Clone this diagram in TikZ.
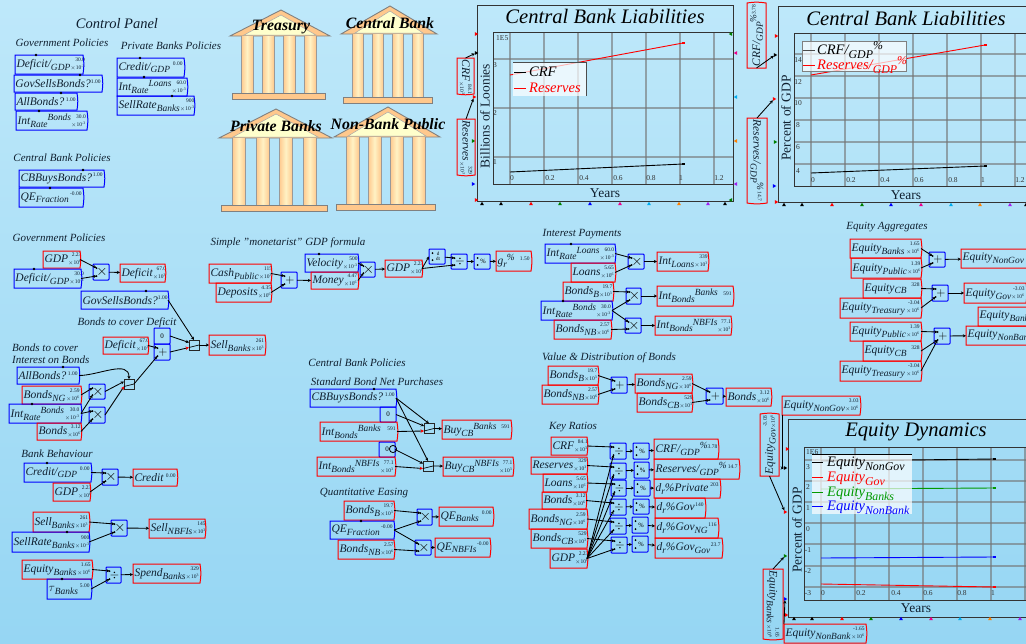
\documentclass[tikz,border=0pt]{standalone}
\usepackage{fontspec}
\setmainfont{Liberation Serif}
\usetikzlibrary{arrows.meta,shapes.geometric}
\makeatletter
\newcommand{\smf}[1]{\dimen0=\f@size pt \dimen0=#1\dimen0 \fontsize{\strip@pt\dimen0}{\strip@pt\dimen0}\selectfont}
\makeatother
\newcommand{\sbs}[1]{\raisebox{-.25em}{\smf{.82}#1}}
\newcommand{\sps}[1]{\raisebox{.33em}{\smf{.82}#1}}
\newcommand{\vstk}[2]{\raisebox{-2.2pt}{\fontsize{5.5}{6.6}\selectfont\upshape\shortstack[r]{#1\\[.5pt]#2}}}
\newcommand{\vone}[1]{\raisebox{4.5pt}{\fontsize{5.5}{6}\selectfont\upshape #1}}
\newcommand{\ee}[1]{$\times$10\textsuperscript{#1}}
\definecolor{txtc}{HTML}{102030}
\tikzset{
  x=1pt,y=-1pt,
  varb/.style={inner sep=0pt,outer sep=0pt,font=\fontsize{11.5}{12}\selectfont\itshape,text=txtc},
  flowv/.style={varb},
  parv/.style={varb},
  flowvline/.style={draw=red,line width=1pt},
  parvline/.style={draw=blue,line width=1pt},
  opb/.style={inner sep=0pt,outer sep=0pt,font=\fontsize{8}{8}\selectfont,text=black},
  opline/.style={draw=blue,line width=1pt,rounded corners=.8pt},
  swb/.style={draw=black!85,line width=.9pt,inner sep=0pt,outer sep=0pt,minimum width=10pt,minimum height=10pt},
  conn/.style={draw=black,line width=.85pt,-{Stealth[length=3.2pt,width=3.2pt]}},
  connr/.style={draw=black,line width=.85pt,-{Stealth[length=3.5pt,width=3.5pt,color=red]}},
  lab/.style={inner sep=0pt,font=\fontsize{11}{12}\selectfont\itshape,text=txtc},
  ttl/.style={inner sep=0pt,font=\fontsize{20.6}{22}\selectfont\itshape,text=black},
  axt/.style={inner sep=0pt,font=\fontsize{13.5}{14}\selectfont,text=txtc},
  tick/.style={inner sep=0pt,font=\fontsize{7.5}{8}\selectfont,text=black!80},
  legt/.style={inner sep=0pt,anchor=west,font=\fontsize{14.5}{15}\selectfont\itshape},
  bankt/.style={inner sep=0pt,font=\fontsize{15.8}{16}\selectfont\bfseries\itshape,text=black},
  mk/.style={regular polygon,regular polygon sides=3,inner sep=0pt,minimum size=4.5pt,outer sep=0pt},
  gridl/.style={draw=black!55,line width=1.1pt,opacity=.6},
  framel/.style={draw=black!80,line width=1pt},
}
\newcommand{\boxline}[2]{\draw[#1] (#2.south west) -- (#2.north west) -- (#2.north east) to[bend left=9] (#2.south east) -- cycle;}
% [style]{name}{x1}{y1}{x2}{y2}{text}{val}{exp}
\newcommand{\var}[9][flowv]{%
  \pgfmathsetlengthmacro{\vw}{#5-#3-3}%
  \node[#1,minimum width={(#5-#3)*1pt},minimum height={(#6-#4)*1pt}] (#2) at ({(#3+#5)/2},{(#4+#6)/2})
    {\hbox to \vw{#7\hfil\ifx&#9&\vone{#8}\else\vstk{#8}{\ee{#9}}\fi}};
  \boxline{#1line}{#2}}
% [rotation]{name}{x1}{y1}{x2}{y2}{text}{val}{exp}: x1..y2 are as seen on the page
\newcommand{\rvar}[9][0]{%
  \pgfmathsetlengthmacro{\vw}{#6-#4-3}%
  \node[flowv,rotate=#1,minimum width={(#6-#4)*1pt},minimum height={(#5-#3)*1pt}] (#2) at ({(#3+#5)/2},{(#4+#6)/2})
    {\hbox to \vw{#7\hfil\ifx&#9&\vone{#8}\else\vstk{#8}{\ee{#9}}\fi}};
  \boxline{flowvline}{#2}}
% {name}{x1}{y1}{x2}{y2}{symbol}
\newcommand{\op}[6]{%
  \node[opb,minimum width={(#4-#2)*1pt},minimum height={(#5-#3)*1pt}] (#1) at ({(#2+#4)/2},{(#3+#5)/2}) {\hspace{2pt}#6};
  \draw[opline] (#1.south west) rectangle (#1.north east);
  \coordinate (#1-a) at ({#2+3.5},{#3+4});
  \coordinate (#1-b) at ({#2+3.5},{#5-4});
  \fill ({#2+3.5},{#3+4}) circle (1pt) ({#2+3.5},{#5-4}) circle (1pt);}
% {name}{x1}{y1}{x2}{y2}
\newcommand{\konst}[5]{%
  \node[opb,minimum width={(#4-#2)*1pt},minimum height={(#5-#3)*1pt},font=\fontsize{7}{7}\selectfont] (#1) at ({(#2+#4)/2},{(#3+#5)/2}) {0};
  \draw[opline] (#1.south west) rectangle (#1.north east);}
\newcommand{\sw}[3]{%
  \node[swb] (#1) at (#2,#3) {};
  \coordinate (#1-t) at (#2,#3-5);
  \coordinate (#1-a) at (#2-5,#3-2.5);
  \coordinate (#1-b) at (#2-5,#3+2.5);
  \coordinate (#1-o) at (#2+5,#3);
  \draw[line width=.7pt] (#2-5,#3+2.5) -- (#2+5,#3);}
\newcommand{\MX}{\fontsize{15}{15}\selectfont$\times$}
\newcommand{\PL}{\fontsize{12}{12}\selectfont$+$}
\newcommand{\DV}{\fontsize{12}{12}\selectfont$\div$}
\newcommand{\PC}{\fontsize{6.5}{7}\selectfont\%}
\newcommand{\DDT}{\raisebox{-.5pt}{\fontsize{5}{5}\selectfont\shortstack{d\\[-1pt]dt}}}
% {apexx}{apexy}{lx}{rx}{roofy}{col lefts}{colw}{coly2}
\definecolor{colO}{HTML}{FFC88C}
\definecolor{colL}{HTML}{FFF2C4}
\definecolor{colR}{HTML}{FFFFCC}
\definecolor{bgT}{HTML}{BEE8FA}
\definecolor{bgB}{HTML}{96D6F3}
\definecolor{purp}{HTML}{A020F0}
\newcommand{\bank}[8]{%
  \draw[fill=colO,draw=gray,line width=.9pt] (#1,#2) -- (#3,#5) -- (#4,#5) -- cycle;
  \fill[colR,draw=gray!70,line width=.5pt] (#1,#2+5) -- (#3+14,#5-1) -- (#4-14,#5-1) -- cycle;
  \foreach \cx in {#6}{\shade[left color=colO,right color=colO,middle color=colL] (\cx,#5) rectangle (\cx+#7,#8);
    \draw[gray!80,line width=.8pt] (\cx,#5) -- (\cx,#8) (\cx+#7,#5) -- (\cx+#7,#8);}
  \draw[fill=colO,draw=gray,line width=.9pt] (#3+2,#8) rectangle (#4-5,#8+6);}
\begin{document}
\begin{tikzpicture}
\useasboundingbox (0,0) rectangle (1026,643);
\clip (0,0) rectangle (1026,643);
\shade[top color=bgT,bottom color=bgB] (0,0) rectangle (1026,643);

% ---- control panel
\node[lab,font=\fontsize{14.5}{15}\selectfont\itshape] (cp) at (117,24) {Control Panel};
\node[lab] (cp1) at (62,43) {Government Policies};
\node[lab] (cp2) at (171,46) {Private Banks Policies};
\node[lab] (cp3) at (62,158) {Central Bank Policies};
\var[parv]{c1}{15}{55}{83}{74}{Deficit/\sbs{GDP}}{30.0}{-3}
\var[parv]{c2}{14}{75}{102}{92}{GovSellsBonds?}{1.00}{}
\var[parv]{c3}{15}{93}{77}{110}{AllBonds?}{1.00}{}
\var[parv]{c4}{16}{111}{87}{130}{Int\sbs{Rate}\sps{Bonds}}{30.0}{-3}
\var[parv]{c5}{19}{170}{104}{187}{CBBuysBonds?}{1.00}{}
\var[parv]{c6}{19}{188}{83}{207}{QE\sbs{Fraction}}{-0.00}{}
\var[parv]{c7}{117}{58}{184}{77}{Credit/\sbs{GDP}}{0.00}{}
\var[parv]{c8}{117}{78}{187}{96}{Int\sbs{Rate}\sps{Loans}}{60.0}{-3}
\var[parv]{c9}{117}{96}{194}{115}{SellRate\sbs{Banks}}{900}{-3}

% ---- buildings
\bank{281}{10}{230}{330}{36}{241,262,283,304}{12}{93}
\bank{390}{6}{341}{437}{34}{352,372,392,412}{11.5}{97}
\bank{276}{109}{219}{332}{138}{232,256,279,303}{13.5}{205}
\bank{388}{107}{334}{440}{137}{346,368,390,412}{13}{204}
\node[bankt] (tb) at (281,27) {Treasury};
\node[bankt] (cb) at (390,23) {Central Bank};
\node[bankt] (pb) at (276,126) {Private Banks};
\node[bankt] (nb) at (388,124) {Non-Bank Public};

% ---- plot 1
\foreach \gx in {510,544,578,612,646,680,714} \draw[gridl] (\gx,32) -- (\gx,184);
\foreach \gy in {59,108,157} \draw[gridl] (493,\gy) -- (733,\gy);
\draw[framel] (477,5) rectangle (733,201);
\draw[framel] (493,32) rectangle (733,184);
\node[ttl] (p1t) at (605,16) {Central Bank Liabilities};
\node[axt] (p1x) at (605,193) {Years};
\node[axt,rotate=90] (p1y) at (485,116) {Billions of Loonies};
\node[tick,anchor=west] (p1e) at (496,38) {1E5};
\node[tick] (p1a) at (495,65) {3};
\node[tick] (p1b) at (495,113) {2};
\node[tick] (p1c) at (495,162) {1};
\foreach \lx/\ll in {512/0,550/0.2,584/0.4,618/0.6,651/0.8,681/1,719/1.2} \node[tick] at (\lx,178) {\ll};
\draw[black,line width=.9pt] (510,172) -- (683,164);
\fill[black] (681.5,162.8) rectangle (684.5,165.2);
\draw[red,line width=.9pt] (510,75) -- (683,43);
\fill[red] (681.5,41.8) rectangle (684.5,44.2);
\fill[white,opacity=.7] (513,62) rectangle (586,96);
\draw[black!70,line width=.8pt] (513,62) -- (586,62) -- (586,96);
\draw[black,line width=.9pt] (514,72) -- (526,72);
\draw[red,line width=.9pt] (514,88) -- (526,88);
\node[legt] (l1a) at (529,72) {CRF};
\node[legt,text=red] (l1b) at (529,88) {Reserves};
\foreach \mn/\mx/\my/\mc/\mr in {a/476/34/red/-90,b/476/53/black/-90,c/474/97/red/-90,d/473/141/green!50!black/-90,e/473/184/blue/-90,f/476/200/red/-90,g/731/34/green!50!black/90,h/736/53/magenta/90,i/736/97/cyan/90,j/736/141/orange/90,k/736/184/purp/90,l/731/200/green!50!black/90}
  \node[mk,fill=\mc,rotate=\mr] (m1\mn) at (\mx,\my) {};
\foreach \mn/\mx/\mc in {a/482/black,b/501/black,c/531/red,d/560/green!50!black,e/590/blue,f/620/magenta,g/649/cyan,h/679/orange,i/708/purp,j/725/black}
  \node[mk,fill=\mc] (n1\mn) at (\mx,204) {};
\rvar[-90]{p1crf}{457}{58}{474}{94}{CRF}{84.1}{3}
\rvar[-90]{p1res}{457}{119}{475}{175}{Reserves}{329}{3}
\draw[conn] (p1crf.west) -- (m1b);
\draw[conn] (p1res.west) -- (m1c);

% ---- plot 2
\foreach \gx in {811,845,879,913,947,981,1015} \draw[gridl] (\gx,33) -- (\gx,186);
\foreach \gy in {54,76,98,120,142,164} \draw[gridl] (794,\gy) -- (1030,\gy);
\draw[framel] (778,6) rectangle (1035,202);
\draw[framel] (794,33) rectangle (1035,186);
\node[ttl] (p2t) at (906,18) {Central Bank Liabilities};
\node[axt] (p2x) at (906,195) {Years};
\node[axt,rotate=90] (p2y) at (786,118) {Percent of GDP};
\foreach \ly/\ll in {60/14,82/12,103/10,125/8,147/6,171/4} \node[tick] at (798,\ly) {\ll};
\foreach \lx/\ll in {813/0,851/0.2,885/0.4,919/0.6,953/0.8,983/1,1020/1.2} \node[tick] at (\lx,180) {\ll};
\draw[black,line width=.9pt] (811,173) -- (985,166);
\fill[black] (983.5,164.8) rectangle (986.5,167.2);
\draw[red,line width=.9pt] (811,75) -- (985,45);
\fill[red] (983.5,43.8) rectangle (986.5,46.2);
\fill[white,opacity=.7] (802,41) rectangle (906,71);
\draw[gray,line width=.8pt] (802,41) rectangle (906,71);
\draw[black!70,line width=.9pt] (803,50) -- (815,50);
\draw[red,line width=.9pt] (803,65) -- (815,65);
\node[legt] (l2a) at (817,50) {CRF/\sbs{GDP}\sps{\%}};
\node[legt,text=red] (l2b) at (817,65) {Reserves/\sbs{GDP}\sps{\%}};
\foreach \mn/\mx/\my/\mc/\mr in {a/776/36/red/-90,b/775/55/black/-90,c/774/99/red/-90,d/775/142/green!50!black/-90,e/774/186/blue/-90,f/776/202/red/-90}
  \node[mk,fill=\mc,rotate=\mr] (m2\mn) at (\mx,\my) {};
\foreach \mn/\mx/\mc in {a/784/black,b/802/black,c/832/red,d/862/green!50!black,e/891/blue,f/921/magenta,g/951/cyan,h/980/orange,i/1010/purp,j/1026/black}
  \node[mk,fill=\mc] (n2\mn) at (\mx,205) {};
\rvar[90]{p2crf}{747}{3}{766}{68}{CRF/\sbs{GDP}\sps{\%}}{3.78}{}
\rvar[-90]{p2res}{747}{118}{767}{203}{Reserves/\sbs{GDP}\sps{\%}}{14.7}{}
\draw[conn] (p2crf.west) -- (m2b);
\draw[conn] (p2res.west) -- (m2c);

% ---- plot 3
\foreach \gx in {821,855,889,923,957,991,1025} \draw[gridl] (\gx,447) -- (\gx,600);
\foreach \gy in {460,481,502,523,544,566,587} \draw[gridl] (804,\gy) -- (1030,\gy);
\draw[framel] (788,419) rectangle (1035,617);
\draw[framel] (804,447) rectangle (1035,600);
\node[ttl] (p3t) at (916,432) {Equity Dynamics};
\node[axt] (p3x) at (916,608) {Years};
\node[axt,rotate=90] (p3y) at (797,530) {Percent of GDP};
\node[tick,anchor=west] (p3e) at (806,452) {1E6};
\foreach \ly/\ll in {467/3,487/2,508/1,529/0,550/-1,571/-2,593/-3} \node[tick] at (808,\ly) {\ll};
\foreach \lx/\ll in {823/0,861/0.2,896/0.4,928/0.6,962/0.8,993/1} \node[tick] at (\lx,593) {\ll};
\draw[black,line width=.9pt] (821,461) -- (994,459);
\fill[black] (992.5,457.8) rectangle (995.5,460.2);
\draw[green!60!black,line width=.9pt] (821,489) -- (994,488);
\fill[green!60!black] (992.5,486.8) rectangle (995.5,489.2);
\draw[blue,line width=.9pt] (821,558) -- (994,557);
\fill[blue] (992.5,555.8) rectangle (995.5,558.2);
\draw[red,line width=.9pt] (821,584) -- (994,587);
\fill[red] (992.5,585.8) rectangle (995.5,588.2);
\fill[white,opacity=.7] (812,454) rectangle (912,514);
\draw[black,line width=.8pt] (812,454) -- (912,454);
\draw[black,line width=.9pt] (812,462) -- (823,462);
\draw[red,line width=.9pt] (812,477) -- (823,477);
\draw[green!60!black,line width=.9pt] (812,492) -- (823,492);
\draw[blue,line width=.9pt] (812,506) -- (823,506);
\node[legt] (l3a) at (827,464) {Equity\sbs{NonGov}};
\node[legt,text=red] (l3b) at (827,479) {Equity\sbs{Gov}};
\node[legt,text=green!60!black] (l3c) at (827,494) {Equity\sbs{Banks}};
\node[legt,text=blue] (l3d) at (827,508) {Equity\sbs{NonBank}};
\foreach \mn/\mx/\my/\mc/\mr in {a/787/449/red/-90,b/785/468/black/-90,c/785/512/red/-90,d/785/556/green!50!black/-90,e/785/599/blue/-90,f/786/615/red/-90}
  \node[mk,fill=\mc,rotate=\mr] (m3\mn) at (\mx,\my) {};
\foreach \mn/\mx/\mc in {a/794/black,b/812/black,c/842/red,d/871/green!50!black,e/901/blue,f/931/magenta,g/960/cyan,h/990/orange,i/1020/purp}
  \node[mk,fill=\mc] (n3\mn) at (\mx,619) {};
\var{p3ng}{782}{396}{860}{415}{Equity\sbs{NonGov}}{3.03}{6}
\rvar[90]{p3gv}{760}{414}{779}{476}{Equity\sbs{Gov}}{-3.03}{6}
\rvar[-90]{p3bk}{763}{569}{783}{639}{Equity\sbs{Banks}}{1.65}{6}
\var{p3nb}{784}{624}{866}{643}{Equity\sbs{NonBank}}{-1.65}{6}
\draw[conn] (p3ng.south west) |- (m3b);
\draw[conn] (p3gv.west) -- (m3c);
\draw[conn] (p3bk.west) -- (m3d);
\draw[conn] (p3nb.north west) -- (m3e);

% ---- government policies
\node[lab] (g0) at (59,238) {Government Policies};
\var{gGDP}{43}{251}{80}{268}{GDP}{2.23}{6}
\var[parv]{gDef}{14}{269}{81}{288}{Deficit/\sbs{GDP}}{30.0}{-3}
\op{gm1}{93}{264}{109}{280}{\MX}
\var{gD1}{120}{264}{165}{282}{Deficit}{67.0}{3}
\var[parv]{gSB}{81}{291}{168}{309}{GovSellsBonds?}{1.00}{}
\node[lab] (g1) at (127,323) {Bonds to cover Deficit};
\var{gD2}{103}{337}{148}{354}{Deficit}{67.0}{3}
\konst{gZ}{154}{328}{170}{344}
\op{gP}{154}{344}{170}{360}{\PL}
\sw{gS1}{194}{345}
\var{gSell}{209}{335}{265}{355}{Sell\sbs{Banks}}{261}{3}
\node[lab,anchor=west] (g2) at (12,348) {Bonds to cover};
\node[lab,anchor=west] (g3) at (12,360) {Interest on Bonds};
\var[parv]{gAB}{17}{367}{79}{384}{AllBonds?}{1.00}{}
\var{gNG}{22}{386}{81}{404}{Bonds\sbs{NG}}{2.59}{6}
\var[parv]{gIR}{9}{404}{81}{423}{Int\sbs{Rate}\sps{Bonds}}{30.0}{-3}
\var{gB}{37}{423}{81}{440}{Bonds}{3.12}{6}
\op{gm2}{89}{384}{105}{399}{\MX}
\op{gm3}{89}{407}{105}{423}{\MX}
\sw{gS2}{129}{384}
\draw[conn] (gGDP.east) -- (gm1-a);
\draw[conn] (gDef.east) -- (gm1-b);
\draw[conn] (gm1) -- (gD1);
\draw[conn] (gSB.east) -- (gS1-t);
\draw[conn] (gZ.east) -- (gS1-a);
\draw[connr] (gP.east) -- (gS1-b);
\draw[conn] (gS1-o) -- (gSell);
\draw[conn] (gD2.east) -- (gP-a);
\draw[conn] (gS2-o) -- (gP-b);
\draw[conn] (gAB.east) to[out=0,in=90] (gS2-t);
\draw[conn] (gm2.east) -- (gS2-a);
\draw[connr] (gm3.east) -- (gS2-b);
\draw[conn] (gNG.east) -- (gm2-a);
\draw[conn] (gIR.east) -- (gm2-b);
\draw[conn] (gIR.east) -- (gm3-a);
\draw[conn] (gB.east) -- (gm3-b);

% ---- bank behaviour
\node[lab] (b0) at (57,454) {Bank Behaviour};
\var[parv]{bC}{24}{463}{91}{482}{Credit/\sbs{GDP}}{0.00}{}
\var{bG}{53}{483}{90}{501}{GDP}{2.23}{6}
\op{bm1}{102}{469}{118}{485}{\MX}
\var{bCr}{133}{469}{177}{486}{Credit}{0.00}{}
\var{bS}{33}{512}{89}{532}{Sell\sbs{Banks}}{261}{3}
\var[parv]{bR}{12}{532}{89}{552}{SellRate\sbs{Banks}}{900}{-3}
\op{bm2}{111}{520}{127}{536}{\MX}
\var{bN}{149}{519}{205}{538}{Sell\sbs{NBFIs}}{145}{3}
\var{bE}{22}{560}{92}{579}{Equity\sbs{Banks}}{1.65}{6}
\var[parv]{bT}{47}{579}{91}{599}{\raisebox{0pt}{$\tau$}\sbs{Banks}}{5.00}{}
\op{bd}{106}{567}{121}{583}{\DV}
\var{bSp}{133}{564}{200}{583}{Spend\sbs{Banks}}{329}{3}
\draw[conn] (bC.east) -- (bm1-a);
\draw[conn] (bG.east) -- (bm1-b);
\draw[conn] (bm1) -- (bCr);
\draw[conn] (bS.east) -- (bm2-a);
\draw[conn] (bR.east) -- (bm2-b);
\draw[conn] (bm2) -- (bN);
\draw[conn] (bE.east) -- (bd-a);
\draw[conn] (bT.east) -- (bd-b);
\draw[conn] (bd) -- (bSp);

% ---- GDP formula
\node[lab] (f0) at (288,243) {Simple "monetarist" GDP formula};
\var{fC}{209}{264}{271}{283}{Cash\sbs{Public}}{115}{3}
\var{fD}{216}{283}{271}{302}{Deposits}{4.35}{6}
\op{fP}{281}{272}{297}{288}{\PL}
\var[parv]{fV}{305}{254}{358}{272}{Velocity}{500}{-3}
\var{fM}{311}{272}{358}{289}{Money}{4.47}{6}
\op{fX}{360}{262}{375}{277}{\MX}
\var{fG}{385}{260}{422}{277}{GDP}{2.23}{6}
\op{fT}{429}{249}{445}{264}{\DDT}
\op{fQ}{451}{254}{467}{269}{\DV}
\op{fPc}{474}{254}{490}{269}{\PC}
\var{fR}{496}{251}{531}{271}{g\sbs{r}\sps{\%}}{1.50}{}
\draw[conn] (fC.east) -- (fP-a);
\draw[conn] (fD.east) -- (fP-b);
\draw[conn] (fP) -- (fM.west);
\draw[conn] (fV.east) -- (fX-a);
\draw[conn] (fM.east) -- (fX-b);
\draw[conn] (fX) -- (fG);
\draw[conn] (fG.east) -- (fT.west);
\draw[conn] (fG.east) -- (fQ-b);
\draw[conn] (fT) -- (fQ-a);
\draw[conn] (fQ) -- (fPc);
\draw[conn] (fPc) -- (fR);

% ---- CB policies
\node[lab] (s0) at (357,363) {Central Bank Policies};
\node[lab] (s1) at (377,382) {Standard Bond Net Purchases};
\var[parv]{sB}{310}{389}{396}{407}{CBBuysBonds?}{1.00}{}
\konst{sZ1}{380}{407}{396}{422}
\var{sI1}{320}{422}{397}{441}{Int\sbs{Bonds}\sps{Banks}}{591}{}
\konst{sZ2}{379}{442}{395}{457}
\draw[line width=.8pt] (393,449) circle (3.6pt);
\var{sI2}{317}{457}{395}{476}{Int\sbs{Bonds}\sps{NBFIs}}{77.1}{3}
\sw{sS1}{429}{428.5}
\sw{sS2}{428}{466}
\var{sO1}{442}{420}{511}{439}{Buy\sbs{CB}\sps{Banks}}{591}{}
\var{sO2}{443}{457}{513}{476}{Buy\sbs{CB}\sps{NBFIs}}{77.1}{3}
\draw[conn] (sB.east) -- (sS1-t);
\draw[conn] (sB.east) -- (sS2-t);
\draw[conn] (sZ1.east) -- (sS1-a);
\draw[connr] (sI1.east) -- (sS1-b);
\draw[conn] (sZ2.east) -- (sS2-a);
\draw[connr] (sI2.east) -- (sS2-b);
\draw[conn] (sS1-o) -- (sO1);
\draw[conn] (sS2-o) -- (sO2);

\node[lab] (q0) at (364,493) {Quantitative Easing};
\var{qB}{344}{501}{394}{520}{Bonds\sbs{B}}{19.7}{3}
\var[parv]{qF}{330}{521}{394}{539}{QE\sbs{Fraction}}{-0.00}{}
\var{qN}{338}{540}{394}{559}{Bonds\sbs{NB}}{2.57}{6}
\op{qm1}{417}{509}{432}{525}{\MX}
\op{qm2}{415}{540}{431}{555}{\MX}
\var{qO1}{439}{507}{493}{526}{QE\sbs{Banks}}{0.00}{}
\var{qO2}{435}{538}{490}{557}{QE\sbs{NBFIs}}{-0.00}{}
\draw[conn] (qB.east) -- (qm1-a);
\draw[conn] (qF.east) -- (qm1-b);
\draw[conn] (qF.east) -- (qm2-a);
\draw[conn] (qN.east) -- (qm2-b);
\draw[conn] (qm1) -- (qO1);
\draw[conn] (qm2) -- (qO2);

% ---- interest payments
\node[lab] (i0) at (582,234) {Interest Payments};
\var[parv]{iL}{545}{244}{615}{263}{Int\sbs{Rate}\sps{Loans}}{60.0}{-3}
\var{iLo}{571}{263}{615}{282}{Loans}{5.65}{6}
\op{im1}{628}{254}{644}{269}{\MX}
\var{iO1}{657}{252}{708}{271}{Int\sbs{Loans}}{339}{3}
\var{iB}{563}{282}{613}{301}{Bonds\sbs{B}}{19.7}{3}
\var[parv]{iR}{541}{301}{612}{320}{Int\sbs{Rate}\sps{Bonds}}{30.0}{-3}
\var{iN}{554}{320}{611}{339}{Bonds\sbs{NB}}{2.57}{6}
\op{im2}{626}{288}{641}{304}{\MX}
\op{im3}{625}{318}{641}{333}{\MX}
\var{iO2}{657}{286}{733}{306}{Int\sbs{Bonds}\sps{Banks}}{591}{}
\var{iO3}{655}{316}{731}{335}{Int\sbs{Bonds}\sps{NBFIs}}{77.1}{3}
\draw[conn] (iL.east) -- (im1-a);
\draw[conn] (iLo.east) -- (im1-b);
\draw[conn] (im1) -- (iO1);
\draw[conn] (iB.east) -- (im2-a);
\draw[conn] (iR.east) -- (im2-b);
\draw[conn] (iR.east) -- (im3-a);
\draw[conn] (iN.east) -- (im3-b);
\draw[conn] (im2) -- (iO2);
\draw[conn] (im3) -- (iO3);

% ---- value and distribution
\node[lab] (v0) at (609,358) {Value \& Distribution of Bonds};
\var{vB}{548}{366}{598}{385}{Bonds\sbs{B}}{19.7}{3}
\var{vN}{542}{385}{598}{404}{Bonds\sbs{NB}}{2.57}{6}
\op{vP1}{611}{377}{627}{393}{\PL}
\var{vG}{635}{374}{692}{393}{Bonds\sbs{NG}}{2.59}{6}
\var{vC}{637}{393}{692}{412}{Bonds\sbs{CB}}{529}{3}
\op{vP2}{706}{388}{723}{404}{\PL}
\var{vT}{726}{388}{771}{406}{Bonds}{3.12}{6}
\draw[conn] (vB.east) -- (vP1-a);
\draw[conn] (vN.east) -- (vP1-b);
\draw[conn] (vP1) -- (vG);
\draw[conn] (vG.east) -- (vP2-a);
\draw[conn] (vC.east) -- (vP2-b);
\draw[conn] (vP2) -- (vT);

% ---- key ratios
\node[lab] (k0) at (573,427) {Key Ratios};
\var{kA}{551}{437}{587}{455}{CRF}{84.1}{3}
\var{kB}{531}{457}{587}{474}{Reserves}{329}{3}
\var{kC}{543}{474}{587}{492}{Loans}{5.65}{6}
\var{kD}{542}{492}{586}{509}{Bonds}{3.12}{6}
\var{kE}{529}{509}{587}{529}{Bonds\sbs{NG}}{2.59}{6}
\var{kF}{531}{529}{587}{548}{Bonds\sbs{CB}}{529}{3}
\var{kG}{550}{549}{587}{568}{GDP}{2.23}{6}
\op{dA}{610}{443}{626}{459}{\DV}
\op{dB}{610}{463}{626}{479}{\DV}
\op{dC}{611}{480}{626}{496}{\DV}
\op{dD}{610}{499}{626}{515}{\DV}
\op{dE}{610}{518}{626}{534}{\DV}
\op{dF}{611}{537}{627}{553}{\DV}
\op{pA}{633}{443}{649}{459}{\PC}
\op{pB}{634}{462}{649}{478}{\PC}
\op{pC}{634}{480}{650}{496}{\PC}
\op{pD}{633}{499}{649}{514}{\PC}
\op{pE}{632}{517}{648}{533}{\PC}
\op{pF}{632}{536}{648}{552}{\PC}
\var{oA}{654}{439}{718}{459}{CRF/\sbs{GDP}\sps{\%}}{3.78}{}
\var{oB}{654}{459}{739}{479}{Reserves/\sbs{GDP}\sps{\%}}{14.7}{}
\var{oC}{654}{479}{720}{498}{d\sbs{r}\%Private}{203}{}
\var{oD}{655}{498}{705}{518}{d\sbs{r}\%Gov}{140}{}
\var{oE}{655}{518}{718}{538}{d\sbs{r}\%Gov\sbs{NG}}{116}{}
\var{oF}{655}{538}{722}{558}{d\sbs{r}\%Gov\sbs{Gov}}{23.7}{}
\foreach \kv/\dv/\pv/\ov in {kA/dA/pA/oA,kB/dB/pB/oB,kC/dC/pC/oC,kD/dD/pD/oD,kE/dE/pE/oE,kF/dF/pF/oF}{
  \draw[conn] (\kv.east) -- (\dv-a);
  \draw[conn] (kG.east) -- (\dv-b);
  \draw[conn] (\dv) -- (\pv);
  \draw[conn] (\pv) -- (\ov);
}

% ---- equity aggregates
\node[lab] (e0) at (887,227) {Equity Aggregates};
\var{eA}{850}{239}{921}{258}{Equity\sbs{Banks}}{1.65}{6}
\var{eB}{851}{258}{921}{278}{Equity\sbs{Public}}{1.39}{6}
\var{eC}{863}{279}{921}{298}{Equity\sbs{CB}}{328}{}
\var{eD}{840}{298}{921}{318}{Equity\sbs{Treasury}}{-3.04}{6}
\var{eE}{850}{322}{921}{341}{Equity\sbs{Public}}{1.39}{6}
\var{eF}{863}{341}{921}{361}{Equity\sbs{CB}}{328}{}
\var{eG}{840}{361}{921}{381}{Equity\sbs{Treasury}}{-3.04}{6}
\op{eP1}{929}{252}{945}{267}{\PL}
\op{eP2}{932}{285}{948}{301}{\PL}
\op{eP3}{934}{328}{950}{344}{\PL}
\var{eO1}{961}{249}{1040}{268}{Equity\sbs{NonGov}}{}{}
\var{eO2}{964}{283}{1026}{303}{Equity\sbs{Gov}}{-3.03}{6}
\var{eO3}{978}{307}{1050}{326}{Equity\sbs{Banks}}{}{}
\var{eO4}{966}{326}{1050}{345}{Equity\sbs{NonBank}}{}{}
\draw[conn] (eA.east) -- (eP1-a);
\draw[conn] (eB.east) -- (eP1-b);
\draw[conn] (eC.east) -- (eP2-a);
\draw[conn] (eD.east) -- (eP2-b);
\draw[conn] (eE.east) -- (eP3-a);
\draw[conn] (eF.east) -- (eP3-b);
\draw[conn] (eG.east) -- (eP3-b);
\draw[conn] (eP1) -- (eO1);
\draw[conn] (eP2) -- (eO2);
\draw[conn] (eP3) -- (eO4);

% ---- parameter dots
\fill[black] (36,55) circle (1.4pt) (80,75) circle (1.4pt) (61,93) circle (1.4pt) (39,111) circle (1.4pt)
 (83,170) circle (1.4pt) (50,188) circle (1.4pt) (140,58) circle (1.4pt) (144,77) circle (1.4pt) (172,96) circle (1.4pt)
 (34,269) circle (1.4pt) (146,291) circle (1.4pt) (63,367) circle (1.4pt) (32,404) circle (1.4pt)
 (47,463) circle (1.4pt) (67,532) circle (1.4pt) (62,579) circle (1.4pt) (319,254) circle (1.4pt)
 (374,389) circle (1.4pt) (361,521) circle (1.4pt) (571,244) circle (1.4pt) (563,301) circle (1.4pt);
\end{tikzpicture}
\end{document}
